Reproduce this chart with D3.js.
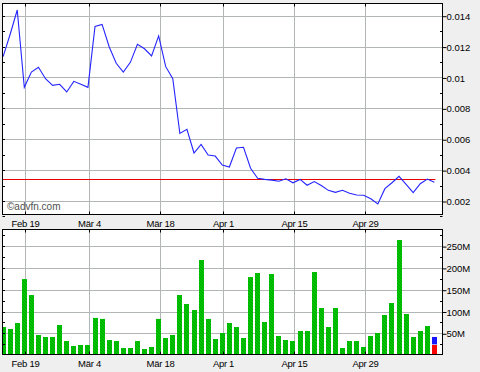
<!DOCTYPE html>
<html>
<head>
<meta charset="utf-8">
<script src="https://cdn.jsdelivr.net/npm/d3@7"></script>
<style>
  body { margin: 0; background: #efefef; }
  svg { display: block; font-family: 'Liberation Sans', Arial, sans-serif; }
</style>
</head>
<body>
<div id="chart"></div>
<script>
// Price + volume chart, one value per trading day (index based x axis)

const prices = [0.01135, 0.0128, 0.01437, 0.00936, 0.01035, 0.01066, 0.00992, 0.00949, 0.00956, 0.00906,
  0.00975, 0.00956, 0.00936, 0.01331, 0.01344, 0.01199, 0.01092, 0.01035, 0.01098, 0.01215,
  0.01186, 0.01139, 0.01269, 0.0107, 0.00992, 0.00638, 0.00664, 0.00511, 0.00567, 0.00498,
  0.00491, 0.00433, 0.0042, 0.00543, 0.00548, 0.00412, 0.00347, 0.0034, 0.00335, 0.00328,
  0.00344, 0.00318, 0.0034, 0.00302, 0.00326, 0.003, 0.00269, 0.00256, 0.00269, 0.0025,
  0.00239, 0.00237, 0.00215, 0.00181, 0.0028, 0.00318, 0.0036, 0.00308, 0.00254, 0.00312,
  0.00342, 0.00321]

// volume in millions
const volumes = [64.4, 59.9, 73.6, 174.4, 137.8, 46.1, 41.5, 41.5, 69, 32.3,
  20.9, 23.2, 23.2, 85.3, 83, 34.6, 32.3, 16.3, 16.3, 32.3,
  14, 18.6, 83, 39.2, 46.1, 137.8, 117.2, 103.4, 218.1, 83,
  36.9, 50.7, 73.6, 64.4, 39.2, 179, 188.3, 75.9, 186, 43.8,
  34.6, 32.3, 55.3, 55.3, 190.6, 108, 64.4, 108, 16.3, 32.3,
  32.3, 18.6, 43.8, 50.7, 92, 119.5, 264, 94.3, 41.5, 55.3, 66.6]

// today's partial volume (millions): red part, blue part
const todayVolume = [23.2, 18.3]

const refPrice = 0.0034

const dateLabels = ['Feb 19', 'Mär 4', 'Mär 18', 'Apr 1', 'Apr 15', 'Apr 29']
const dateIndex = [3, 12, 22, 31, 41, 51]

const priceTicks = [0.002, 0.004, 0.006, 0.008, 0.01, 0.012, 0.014]
const priceMinor = [0.001, 0.003, 0.005, 0.007, 0.009, 0.011, 0.013]
const volumeTicks = [50, 100, 150, 200, 250]
const volumeMinor = [25, 75, 125, 175, 225, 275]

const width = 480
const height = 372
const pricePanel = { x0: 2.5, x1: 442.5, y0: 3.5, y1: 214.5 }
const volPanel = { x0: 2.5, x1: 442.5, y0: 229.5, y1: 354.5 }
const gridColor = '#b2b6b6'

const svg = d3.select('#chart').append('svg')
  .attr('width', width)
  .attr('height', height)

svg.append('rect').attr('width', width).attr('height', height).attr('fill', '#efefef')

const defs = svg.append('defs')
const pat = defs.append('pattern')
  .attr('id', 'volFill')
  .attr('patternUnits', 'userSpaceOnUse')
  .attr('width', 3).attr('height', 3)
pat.append('rect').attr('width', 3).attr('height', 3).attr('fill', '#00c800')
;[0, 1, 2].forEach(k => {
  pat.append('rect').attr('x', k).attr('y', k).attr('width', 1).attr('height', 1).attr('fill', '#00a400')
})

const panels = [pricePanel, volPanel]
panels.forEach((p, i) => {
  defs.append('clipPath').attr('id', 'clip' + i)
    .append('rect').attr('x', p.x0).attr('y', p.y0).attr('width', p.x1 - p.x0).attr('height', p.y1 - p.y0)
  svg.append('rect')
    .attr('x', p.x0).attr('y', p.y0)
    .attr('width', p.x1 - p.x0).attr('height', p.y1 - p.y0)
    .attr('fill', '#fff')
})

const x = d3.scaleLinear().domain([0, 61]).range([4.1, 435.4])
const gx = i => Math.round(x(i)) + 0.5
const cx = i => x(i) - 1

const yPrice = d3.scaleLinear().domain([0.002, 0.014]).range([201, 15.7])
const yVol = d3.scaleLinear().domain([0, 250]).range([355.1, 246.1])

// gridlines
const drawGrid = (p, yScale, values, cls) => {
  const g = svg.append('g').attr('class', cls)
  g.selectAll('.h').data(values).join('line')
    .attr('x1', p.x0).attr('x2', p.x1)
    .attr('y1', d => Math.round(yScale(d)) + 0.5)
    .attr('y2', d => Math.round(yScale(d)) + 0.5)
    .attr('stroke', gridColor)
  g.selectAll('.v').data(dateIndex).join('line')
    .attr('x1', d => gx(d)).attr('x2', d => gx(d))
    .attr('y1', p.y0).attr('y2', p.y1)
    .attr('stroke', gridColor)
}
drawGrid(pricePanel, yPrice, priceTicks, 'grid-price')
drawGrid(volPanel, yVol, volumeTicks, 'grid-vol')

// volume bars
const bars = svg.append('g').attr('clip-path', 'url(#clip1)')
bars.selectAll('rect').data(volumes).join('rect')
  .attr('x', (d, i) => Math.round(cx(i) - 2.5))
  .attr('width', 5)
  .attr('y', d => yVol(d))
  .attr('height', d => volPanel.y1 - yVol(d))
  .attr('fill', 'url(#volFill)')

const todayX = Math.round(cx(61) - 2.5)
bars.append('rect')
  .attr('x', todayX).attr('width', 5)
  .attr('y', yVol(todayVolume[0])).attr('height', volPanel.y1 - yVol(todayVolume[0]))
  .attr('fill', '#ff0000')
bars.append('rect')
  .attr('x', todayX).attr('width', 5)
  .attr('y', yVol(todayVolume[0] + todayVolume[1])).attr('height', yVol(todayVolume[0]) - yVol(todayVolume[0] + todayVolume[1]) - 0.6)
  .attr('fill', '#1414ff')

// price line + reference line
const priceG = svg.append('g').attr('clip-path', 'url(#clip0)')
priceG.append('line')
  .attr('x1', pricePanel.x0).attr('x2', cx(61) + 1)
  .attr('y1', Math.round(yPrice(refPrice)) + 0.5)
  .attr('y2', Math.round(yPrice(refPrice)) + 0.5)
  .attr('stroke', '#e80000')
priceG.append('path')
  .datum(prices)
  .attr('d', d3.line().x((d, i) => cx(i)).y(d => yPrice(d)))
  .attr('fill', 'none')
  .attr('stroke', '#2424ff')
  .attr('stroke-width', 1.1)

svg.append('text')
  .attr('x', 7).attr('y', 209.5)
  .attr('font-size', 10)
  .attr('fill', '#505050')
  .text('©advfn.com')

// borders and inner ticks
panels.forEach((p, i) => {
  const yScale = i === 0 ? yPrice : yVol
  const all = i === 0 ? priceTicks.concat(priceMinor) : volumeTicks.concat(volumeMinor)
  const minor = i === 0 ? priceMinor : volumeMinor
  const g = svg.append('g')
  g.selectAll('.lt').data(all).join('line')
    .attr('x1', p.x0).attr('x2', p.x0 + 2.5)
    .attr('y1', d => Math.round(yScale(d)) + 0.5)
    .attr('y2', d => Math.round(yScale(d)) + 0.5)
    .attr('stroke', '#000')
  g.selectAll('.rt').data(minor.filter(d => yScale(d) > p.y0)).join('line')
    .attr('x1', p.x1 - 2.5).attr('x2', p.x1)
    .attr('y1', d => Math.round(yScale(d)) + 0.5)
    .attr('y2', d => Math.round(yScale(d)) + 0.5)
    .attr('stroke', '#000')
  g.selectAll('.bt').data(dateIndex).join('line')
    .attr('x1', d => gx(d)).attr('x2', d => gx(d))
    .attr('y1', p.y1 - 3).attr('y2', p.y1)
    .attr('stroke', '#000')
  g.selectAll('.tt').data(dateIndex).join('line')
    .attr('x1', d => gx(d)).attr('x2', d => gx(d))
    .attr('y1', p.y0).attr('y2', p.y0 + 3)
    .attr('stroke', '#000')
  svg.append('rect')
    .attr('x', p.x0).attr('y', p.y0)
    .attr('width', p.x1 - p.x0).attr('height', p.y1 - p.y0)
    .attr('fill', 'none').attr('stroke', '#000')
})

// right axes
const styleAxis = g => {
  g.select('.domain').remove()
  g.selectAll('text').attr('font-size', 9.5).attr('fill', '#000').attr('font-family', 'Liberation Sans, Arial, sans-serif')
}
svg.append('g')
  .attr('transform', 'translate(' + pricePanel.x1 + ',0.5)')
  .call(d3.axisRight(yPrice).tickValues(priceTicks).tickSize(4).tickPadding(0).tickFormat(d => String(d)))
  .call(styleAxis)
svg.append('g')
  .attr('transform', 'translate(' + volPanel.x1 + ',0.5)')
  .call(d3.axisRight(yVol).tickValues(volumeTicks).tickSize(4).tickPadding(0).tickFormat(d => d + 'M'))
  .call(styleAxis)

// date labels, between panels and below volume
;[227, 366.5].forEach(yy => {
  svg.append('g').selectAll('text').data(dateIndex).join('text')
    .attr('x', d => gx(d))
    .attr('y', yy)
    .attr('text-anchor', 'middle')
    .attr('font-size', 9.5)
    .attr('letter-spacing', '-0.3')
    .attr('fill', '#000')
    .text((d, i) => dateLabels[i])
})
</script>
</body>
</html>
